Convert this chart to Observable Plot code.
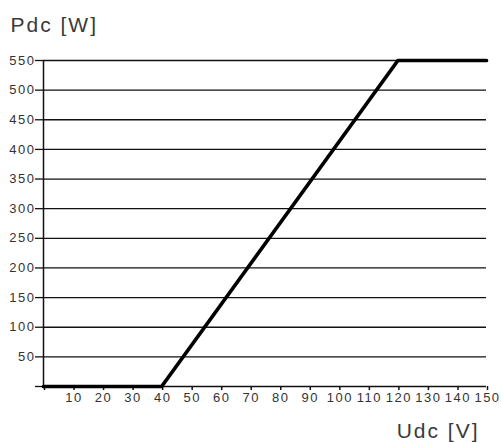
<!DOCTYPE html>
<html>
<head>
<meta charset="utf-8">
<script src="https://cdn.jsdelivr.net/npm/d3@7"></script>
<script src="https://cdn.jsdelivr.net/npm/@observablehq/plot@0.6"></script>
<style>
  html, body { margin: 0; padding: 0; background: #fff; }
  svg { display: block; }
  g[aria-label="x-axis tick label"] text { letter-spacing: 1.5px; }
  g[aria-label="y-axis tick label"] text { letter-spacing: 1.5px; }
  g[aria-label="text"] text { letter-spacing: 2px; }
</style>
</head>
<body>
<div id="chart"></div>
<script>
const udc = [0, 40, 120, 150];
const pdc = [0, 0, 550, 550];
const xTicks = [0, 10, 20, 30, 40, 50, 60, 70, 80, 90, 100, 110, 120, 130, 140, 150];
const yTicks = [0, 50, 100, 150, 200, 250, 300, 350, 400, 450, 500, 550];
const gridY = [50, 100, 150, 200, 250, 300, 350, 400, 450, 500, 550];
const xTitle = "Udc [V]";
const yTitle = "Pdc [W]";

const points = udc.map((u, i) => ({u, p: pdc[i]}));

const chart = Plot.plot({
  width: 501,
  height: 443,
  marginLeft: 43,
  marginRight: 15,
  marginTop: 60,
  marginBottom: 57,
  style: {fontFamily: "'Liberation Sans', Arial, sans-serif", background: "#fff", overflow: "visible"},
  x: {domain: [0, 150]},
  y: {domain: [0, 550]},
  marks: [
    Plot.ruleY(gridY, {x1: 0, x2: 150, stroke: "#111", strokeWidth: 1.3}),
    Plot.ruleY([0], {x1: 0, x2: 150, stroke: "#111", strokeWidth: 1.5}),
    Plot.ruleX([0], {y1: 0, y2: 550, stroke: "#111", strokeWidth: 1.5}),
    Plot.axisX({ticks: xTicks, tickSize: 4, tickPadding: 2, stroke: "#111", strokeWidth: 1.5,
      tickFormat: d => d === 0 ? "" : String(d), fontSize: 13, fill: "#333", label: null, dx: 1}),
    Plot.axisY({ticks: yTicks, tickSize: 8, tickPadding: 0, stroke: "#111", strokeWidth: 1.3,
      tickFormat: d => d === 0 ? "" : String(d), fontSize: 13, fill: "#333", label: null}),
    Plot.line(points, {x: "u", y: "p", stroke: "#000", strokeWidth: 3.7, strokeLinejoin: "miter"}),
    Plot.text([yTitle], {frameAnchor: "top-left", text: d => d, dx: -33, dy: -35, textAnchor: "start",
      lineAnchor: "middle", fontSize: 21, fill: "#3a3a3a"}),
    Plot.text([xTitle], {frameAnchor: "bottom-right", text: d => d, dx: -7, dy: 45, textAnchor: "end",
      lineAnchor: "middle", fontSize: 21, fill: "#3a3a3a"})
  ]
});
document.getElementById("chart").appendChild(chart);
</script>
</body>
</html>
